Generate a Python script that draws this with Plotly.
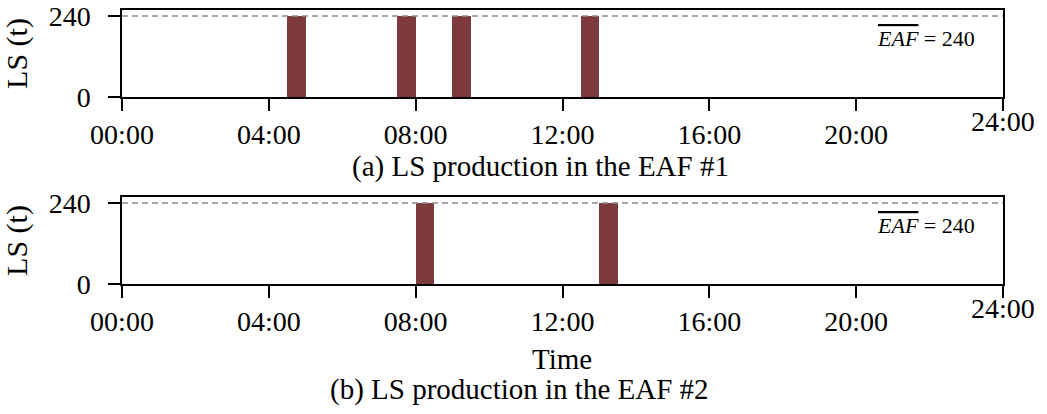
import plotly.graph_objects as go
from plotly.subplots import make_subplots

# Heat start times (hours), heat duration (hours) and tapped liquid steel (t)
eaf1_start = [4.5, 7.5, 9.0, 12.5]
eaf1_ls = [240, 240, 240, 240]
eaf2_start = [8.0, 13.0]
eaf2_ls = [240, 240]
heat_duration = 0.5
eaf_capacity = 240

tick_hours = [0, 4, 8, 12, 16, 20, 24]
tick_labels = ["00:00", "04:00", "08:00", "12:00", "16:00", "20:00", ""]
y_ticks = [0, 240]

BAR = "#7d393b"
FONT = "Liberation Serif"
FS = 28

fig = make_subplots(rows=2, cols=1, vertical_spacing=0.365)

for row, starts, ls in [(1, eaf1_start, eaf1_ls), (2, eaf2_start, eaf2_ls)]:
    fig.add_trace(
        go.Bar(
            x=[s + heat_duration / 2 for s in starts],
            y=ls,
            width=heat_duration,
            marker=dict(color=BAR, line=dict(width=0)),
            showlegend=False,
        ),
        row=row, col=1,
    )
    fig.add_hline(
        y=eaf_capacity, line=dict(color="#8c8c8c", width=1.5, dash="6px,4px"),
        row=row, col=1,
    )

axis_common = dict(showline=True, linecolor="black", linewidth=1.5, mirror=True,
                   showgrid=False, zeroline=False, ticks="outside", ticklen=12,
                   tickwidth=1.5, tickcolor="black", automargin=False,
                   tickfont=dict(family=FONT, size=FS, color="black"))

for row in (1, 2):
    fig.update_xaxes(range=[0, 24], tickvals=tick_hours, ticktext=tick_labels,
                     row=row, col=1, **axis_common)
    fig.update_yaxes(range=[0, 258], tickvals=y_ticks, row=row, col=1,
                     ticklabelstandoff=12,
                     title=dict(text="LS (t)", font=dict(family=FONT, size=30, color="black")),
                     **axis_common)

annotations = []
for xref, yref in [("x", "y"), ("x2", "y2")]:
    annotations.append(dict(
        x=24, y=0, xref=xref, yref=yref, text="24:00", showarrow=False,
        xanchor="center", yanchor="top", yshift=-7,
        font=dict(family=FONT, size=FS, color="black")))
    annotations.append(dict(
        x=23.3, y=eaf_capacity, xref=xref, yref=yref,
        text="<span style='text-decoration:overline'><i>EAF</i></span> = 240",
        showarrow=False, xanchor="right", yanchor="top", yshift=-8,
        font=dict(family=FONT, size=22, color="black")))

annotations += [
    dict(x=540, y=166, xref="paper", yref="paper", size=29,
         text="(a) LS production in the EAF #1"),
    dict(x=562, y=359, xref="paper", yref="paper", size=29, text="Time"),
    dict(x=519, y=389, xref="paper", yref="paper", size=29,
         text="(b) LS production in the EAF #2"),
]

# convert pixel placements of captions to paper coordinates
L, R, T, B, W, H = 122, 44, 10, 130, 1047, 414
pw, ph = W - L - R, H - T - B
for a in annotations:
    if a.get("xref") == "paper":
        px, py = a["x"], a["y"]
        a["x"] = (px - L) / pw
        a["y"] = (H - B - py) / ph
        a.update(showarrow=False, xanchor="center", yanchor="middle",
                 font=dict(family=FONT, size=a.pop("size"), color="black"))

fig.update_layout(
    width=W, height=H,
    margin=dict(l=L, r=R, t=T, b=B),
    paper_bgcolor="white", plot_bgcolor="white",
    bargap=0,
    annotations=annotations,
)
fig.update_layout(yaxis=dict(domain=[0.6825, 1.0]), yaxis2=dict(domain=[0.0, 0.3175]))

fig.write_html("out.html")
